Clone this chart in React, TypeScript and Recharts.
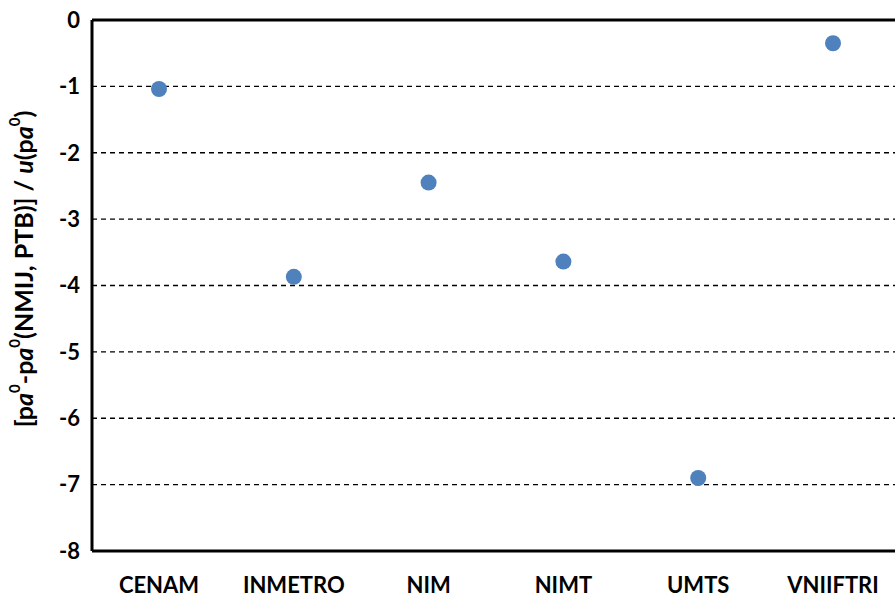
import React from "react";
import {
  ComposedChart,
  Scatter,
  XAxis,
  YAxis,
  CartesianGrid,
  ReferenceLine,
  Label,
} from "recharts";

// institutes and their normalised deviations
const institutes = ["CENAM", "INMETRO", "NIM", "NIMT", "UMTS", "VNIIFTRI"];
const deviations = [-1.04, -3.87, -2.45, -3.64, -6.9, -0.35];
const yTicks = [0, -1, -2, -3, -4, -5, -6, -7, -8];

const data = institutes.map((name, i) => ({ name, value: deviations[i] }));

const FONT = "Lato, 'Liberation Sans', sans-serif";

function YTitle() {
  const sup = { fontSize: 15 };
  return (
    <text
      x={23}
      y={269}
      transform="rotate(-90 23 269)"
      textAnchor="middle"
      dominantBaseline="central"
      fontFamily={FONT}
      fontWeight={700}
      fontSize={25}
      fill="#000"
    >
      <tspan>[p</tspan>
      <tspan fontStyle="italic">a</tspan>
      <tspan dy={-9} {...sup}>0</tspan>
      <tspan dy={9}>-p</tspan>
      <tspan fontStyle="italic">a</tspan>
      <tspan dy={-9} {...sup}>0</tspan>
      <tspan dy={9}>(NMIJ, PTB)] / </tspan>
      <tspan fontStyle="italic">u</tspan>
      <tspan>(p</tspan>
      <tspan fontStyle="italic">a</tspan>
      <tspan dy={-9} {...sup}>0</tspan>
      <tspan dy={9}>)</tspan>
    </text>
  );
}

const dot = (p: any) => <circle cx={p.cx} cy={p.cy} r={8} fill="#4F81BD" />;

export default function App() {
  const tick = { fontFamily: FONT, fontWeight: 700, fontSize: 22, fill: "#000" };
  return (
    <div style={{ width: 895, height: 598, overflow: "hidden", background: "#fff" }}>
      <style>{`body{margin:0}`}</style>
      <ComposedChart
        width={900}
        height={598}
        data={data}
        margin={{ top: 20, right: 0, bottom: 0, left: 0 }}
      >
        <CartesianGrid vertical={false} stroke="#000" strokeDasharray="5 4" strokeWidth={1.3} />
        <XAxis
          dataKey="name"
          height={47}
          padding={{ left: 67, right: 67 }}
          axisLine={{ stroke: "#000", strokeWidth: 3 }}
          tickLine={false}
          tickSize={0}
          tickMargin={26}
          tick={tick}
          interval={0}
        />
        <YAxis
          width={92}
          domain={[-8, 0]}
          ticks={yTicks}
          allowDataOverflow
          axisLine={{ stroke: "#000", strokeWidth: 3 }}
          tickLine={false}
          tickSize={0}
          tickMargin={12}
          tick={tick}
        >
          <Label content={() => <YTitle />} />
        </YAxis>
        <ReferenceLine y={0} stroke="#000" strokeWidth={3} />
        <Scatter dataKey="value" shape={dot} isAnimationActive={false} />
      </ComposedChart>
    </div>
  );
}
